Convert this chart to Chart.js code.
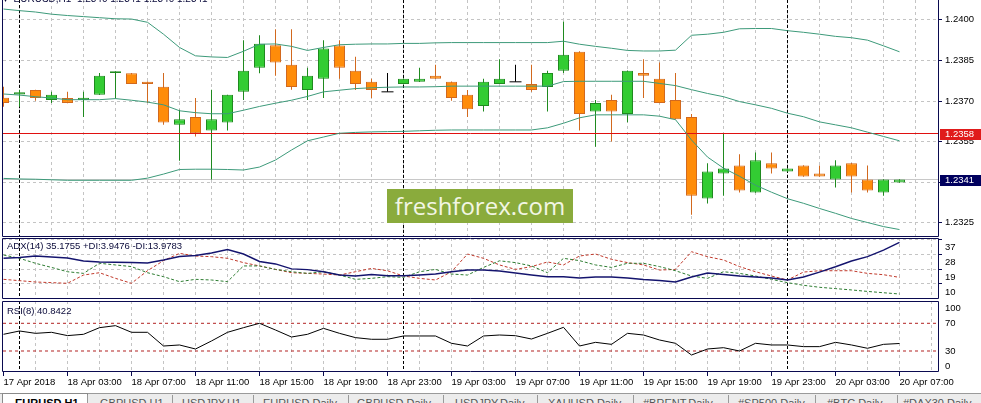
<!DOCTYPE html>
<html>
<head>
<meta charset="utf-8">
<script src="https://cdn.jsdelivr.net/npm/chart.js@4.4.1/dist/chart.umd.min.js"></script>
<style>
html,body{margin:0;padding:0;background:#fff;}
#wrap{position:relative;width:981px;height:403px;overflow:hidden;background:#fff;font-family:"Liberation Sans",Arial,sans-serif;}
#wrap canvas{position:absolute;left:0;}
.lbl{position:absolute;white-space:nowrap;font-size:9.5px;line-height:12px;color:#0a0a3a;}
#wm{position:absolute;left:387px;top:189px;width:186px;height:34px;background:#8aab3c;color:#f2f6e4;font-family:"Open Sans",sans-serif;font-size:24px;line-height:34px;text-align:center;}
#tabs{position:absolute;left:0;top:393px;width:981px;height:10px;background:#ececec;border-top:1px solid #9a9a9a;}
.tab{position:absolute;top:3px;font-size:11px;line-height:12px;color:#555;white-space:nowrap;}
.sep{position:absolute;top:1px;width:1px;height:10px;background:#9a9a9a;}
</style>
</head>
<body>
<div id="wrap">
  <canvas id="cMain" width="981" height="237" style="top:0"></canvas>
  <canvas id="cAdx" width="981" height="61" style="top:238px"></canvas>
  <canvas id="cRsi" width="981" height="87" style="top:301px"></canvas>
  <div class="lbl" style="left:3px;top:-7px;font-size:10px">&#9662;&nbsp;&nbsp;EURUSD,H1&nbsp; 1.2340 1.2341 1.2340 1.2341</div>
  <div class="lbl" style="left:7px;top:240px">ADX(14) 35.1755 +DI:3.9476 -DI:13.9783</div>
  <div class="lbl" style="left:7px;top:305px">RSI(8) 40.8422</div>
  <div id="wm">freshforex.com</div>
  <div id="tabs">
    <div style="position:absolute;left:2px;top:-1px;width:84px;height:12px;background:#fff;border:1px solid #8a8a8a;border-bottom:none"></div>
    <div class="tab" style="left:15px;font-weight:bold;color:#000">EURUSD,H1</div>
    <div class="sep" style="left:87px"></div>
    <div class="tab" style="left:100px">GBPUSD,H1</div>
    <div class="sep" style="left:172px"></div>
    <div class="tab" style="left:182px">USDJPY,H1</div>
    <div class="sep" style="left:253px"></div>
    <div class="tab" style="left:263px">EURUSD,Daily</div>
    <div class="sep" style="left:348px"></div>
    <div class="tab" style="left:357px">GBPUSD,Daily</div>
    <div class="sep" style="left:443px"></div>
    <div class="tab" style="left:455px">USDJPY,Daily</div>
    <div class="sep" style="left:537px"></div>
    <div class="tab" style="left:548px">XAUUSD,Daily</div>
    <div class="sep" style="left:633px"></div>
    <div class="tab" style="left:643px">#BRENT,Daily</div>
    <div class="sep" style="left:728px"></div>
    <div class="tab" style="left:738px">#SP500,Daily</div>
    <div class="sep" style="left:815px"></div>
    <div class="tab" style="left:827px">#BTC,Daily</div>
    <div class="sep" style="left:897px"></div>
    <div class="tab" style="left:903px">#DAX30,Daily</div>
  </div>
</div>
<script>
// ---------- DATA ----------
const CATEGORIES = ["17 Apr 23:00","18 Apr 00:00","18 Apr 01:00","18 Apr 02:00","18 Apr 03:00","18 Apr 04:00","18 Apr 05:00","18 Apr 06:00","18 Apr 07:00","18 Apr 08:00","18 Apr 09:00","18 Apr 10:00","18 Apr 11:00","18 Apr 12:00","18 Apr 13:00","18 Apr 14:00","18 Apr 15:00","18 Apr 16:00","18 Apr 17:00","18 Apr 18:00","18 Apr 19:00","18 Apr 20:00","18 Apr 21:00","18 Apr 22:00","18 Apr 23:00","19 Apr 00:00","19 Apr 01:00","19 Apr 02:00","19 Apr 03:00","19 Apr 04:00","19 Apr 05:00","19 Apr 06:00","19 Apr 07:00","19 Apr 08:00","19 Apr 09:00","19 Apr 10:00","19 Apr 11:00","19 Apr 12:00","19 Apr 13:00","19 Apr 14:00","19 Apr 15:00","19 Apr 16:00","19 Apr 17:00","19 Apr 18:00","19 Apr 19:00","19 Apr 20:00","19 Apr 21:00","19 Apr 22:00","19 Apr 23:00","20 Apr 00:00","20 Apr 01:00","20 Apr 02:00","20 Apr 03:00","20 Apr 04:00","20 Apr 05:00","20 Apr 06:00","20 Apr 07:00"];
const TIME_TICKS = ["17 Apr 2018","18 Apr 03:00","18 Apr 07:00","18 Apr 11:00","18 Apr 15:00","18 Apr 19:00","18 Apr 23:00","19 Apr 03:00","19 Apr 07:00","19 Apr 11:00","19 Apr 15:00","19 Apr 19:00","19 Apr 23:00","20 Apr 03:00","20 Apr 07:00"];

const OPEN  = [1.23712,1.23724,1.23741,1.23704,1.23711,1.23704,1.23723,1.23804,1.23803,1.23771,1.23753,1.23612,1.23641,1.23591,1.23621,1.23734,1.23823,1.23906,1.23834,1.23741,1.23782,1.23905,1.23812,1.23771,1.23734,1.23763,1.23771,1.23793,1.23771,1.23723,1.23682,1.23763,1.23771,1.23763,1.23752,1.23812,1.23882,1.23661,1.23704,1.23652,1.23804,1.23782,1.23704,1.23641,1.23340,1.23432,1.23462,1.23362,1.23470,1.23440,1.23462,1.23432,1.23410,1.23470,1.23410,1.23362,1.23399];
const HIGH  = [1.23753,1.23742,1.23742,1.23734,1.23734,1.23734,1.23804,1.23810,1.23804,1.23772,1.23804,1.23668,1.23711,1.23742,1.23723,1.23925,1.23943,1.23965,1.23965,1.23823,1.23925,1.23925,1.23864,1.23782,1.23804,1.23783,1.23823,1.23834,1.23772,1.23741,1.23782,1.23854,1.23834,1.23834,1.23812,1.23994,1.23884,1.23704,1.23723,1.23813,1.23854,1.23842,1.23804,1.23652,1.23470,1.23581,1.23503,1.23510,1.23510,1.23452,1.23463,1.23462,1.23481,1.23471,1.23462,1.23411,1.23411];
const LOW   = [1.23679,1.23679,1.23701,1.23693,1.23692,1.23641,1.23722,1.23709,1.23763,1.23693,1.23612,1.23479,1.23569,1.23410,1.23591,1.23704,1.23803,1.23793,1.23742,1.23704,1.23711,1.23782,1.23741,1.23711,1.23734,1.23761,1.23770,1.23781,1.23701,1.23641,1.23661,1.23763,1.23771,1.23734,1.23661,1.23804,1.23591,1.23531,1.23550,1.23622,1.23711,1.23692,1.23632,1.23280,1.23321,1.23350,1.23362,1.23361,1.23432,1.23439,1.23420,1.23420,1.23380,1.23362,1.23362,1.23350,1.23398];
const CLOSE = [1.23693,1.23732,1.23711,1.23723,1.23693,1.23712,1.23793,1.23810,1.23763,1.23763,1.23621,1.23633,1.23581,1.23633,1.23723,1.23812,1.23912,1.23842,1.23752,1.23793,1.23894,1.23823,1.23763,1.23741,1.23734,1.23782,1.23782,1.23782,1.23711,1.23670,1.23771,1.23782,1.23771,1.23741,1.23804,1.23871,1.23652,1.23693,1.23661,1.23812,1.23793,1.23693,1.23633,1.23350,1.23440,1.23451,1.23369,1.23481,1.23451,1.23451,1.23421,1.23421,1.23462,1.23421,1.23369,1.23410,1.23410];

const BB_UPPER  = [1.24040,1.24034,1.24029,1.24021,1.24016,1.24012,1.24008,1.24004,1.24003,1.23991,1.23947,1.23898,1.23867,1.23863,1.23861,1.23884,1.23910,1.23911,1.23902,1.23887,1.23898,1.23908,1.23910,1.23911,1.23911,1.23913,1.23913,1.23915,1.23916,1.23916,1.23916,1.23916,1.23916,1.23916,1.23916,1.23921,1.23910,1.23902,1.23895,1.23887,1.23885,1.23885,1.23888,1.23943,1.23947,1.23954,1.23967,1.23968,1.23968,1.23960,1.23954,1.23947,1.23939,1.23934,1.23925,1.23904,1.23882];
const BB_MIDDLE = [1.23726,1.23722,1.23716,1.23711,1.23705,1.23705,1.23705,1.23709,1.23703,1.23696,1.23686,1.23664,1.23657,1.23653,1.23653,1.23666,1.23680,1.23692,1.23703,1.23717,1.23734,1.23740,1.23746,1.23749,1.23751,1.23752,1.23752,1.23753,1.23755,1.23755,1.23755,1.23755,1.23755,1.23755,1.23755,1.23772,1.23773,1.23773,1.23773,1.23773,1.23773,1.23765,1.23757,1.23742,1.23728,1.23716,1.23698,1.23686,1.23673,1.23655,1.23642,1.23623,1.23612,1.23601,1.23585,1.23569,1.23553];
const BB_LOWER  = [1.23414,1.23412,1.23411,1.23409,1.23407,1.23407,1.23407,1.23407,1.23407,1.23415,1.23430,1.23447,1.23448,1.23448,1.23447,1.23445,1.23456,1.23482,1.23519,1.23553,1.23567,1.23581,1.23584,1.23586,1.23587,1.23588,1.23590,1.23592,1.23593,1.23593,1.23593,1.23593,1.23593,1.23593,1.23601,1.23618,1.23638,1.23649,1.23649,1.23649,1.23649,1.23644,1.23631,1.23556,1.23493,1.23452,1.23422,1.23389,1.23363,1.23339,1.23322,1.23303,1.23285,1.23266,1.23251,1.23236,1.23225];

const ADX      = [25.5,26.0,26.9,26.3,25.7,23.9,23.3,23.1,23.0,22.7,24.5,26.6,27.2,28.7,30.8,28.1,23.6,22.1,19.1,18.7,17.4,15.4,14.8,15.7,15.0,15.0,15.4,16.0,17.4,18.4,18.4,17.8,16.6,15.4,14.4,14.4,13.6,14.2,14.2,13.6,12.7,12.1,11.2,14.2,16.6,15.7,14.8,14.2,13.6,12.4,14.2,17.2,20.4,23.9,26.5,30.5,35.1755];
const PLUS_DI  = [27.5,25.5,22.5,20.0,17.4,16.4,22.5,21.5,20.5,16.8,14.4,11.4,12.8,12.4,11.4,20.9,20.9,18.8,17.4,16.4,17.4,15.4,12.8,13.4,14.4,14.0,17.4,18.8,16.0,15.4,20.0,24.0,22.9,20.9,16.8,25.5,24.1,21.5,20.0,22.5,22.5,20.5,18.0,14.8,13.4,17.4,16.4,14.8,12.8,10.8,9.2,8.0,7.2,6.4,5.5,4.7,3.9476];
const MINUS_DI = [12.8,12.0,11.2,10.8,10.4,15.4,16.8,13.4,10.4,18.0,24.1,28.5,26.9,26.5,25.5,22.9,20.9,18.8,16.8,16.4,16.0,15.4,17.4,19.4,18.0,14.8,13.4,12.4,17.4,28.1,25.5,21.5,18.8,20.5,23.3,21.5,26.9,28.1,24.9,22.9,21.5,18.4,18.8,29.5,26.5,24.5,20.5,17.4,14.8,12.4,17.2,18.0,18.0,18.0,16.4,15.6,13.9783];
const RSI      = [54.1,58.9,55.5,57.0,52.2,54.1,63.7,66.6,57.0,57.0,37.2,38.7,32.9,44.5,57.0,63.7,70.0,60.3,50.2,54.1,62.7,55.5,49.3,46.9,46.9,51.7,51.7,51.7,41.1,37.2,51.7,53.1,52.1,47.3,55.5,64.2,37.2,42.5,39.6,55.5,53.1,45.9,41.1,24.2,32.9,34.8,30.0,41.1,38.7,38.7,36.3,36.3,42.5,38.7,33.9,39.6,40.8422];

const PRICE_TICKS = [1.2325,1.2340,1.2355,1.2370,1.2385,1.2400];
const ADX_TICKS = [10,19,28,37];
const RSI_TICKS = [0,30,70,100];
const RSI_LEVELS = [70,30];
const LEVEL_PRICE = 1.2358;
const BID_PRICE = 1.2341;

// ---------- SCALE RANGES / STYLE ----------
const X_MIN = -0.03125, X_MAX = 58.40625;
const PRICE_MIN = 1.231975, PRICE_MAX = 1.2407338;
const ADX_MIN = 0.92, ADX_MAX = 37.78;
const RSI_MIN = -0.33, RSI_MAX = 102.2;

const FRAME = '#0a0a50';
const GRID = '#c4c4c4';
const BULL_FILL = '#33cc33', BULL_LINE = '#1f8a1f';
const BEAR_FILL = '#ff8c0a', BEAR_LINE = '#d2691e';
const DOJI = '#000000';
const BAND = '#3d9a7a';
const FONT = "'Liberation Sans', Arial, sans-serif";

Chart.defaults.font.family = FONT;
Chart.defaults.font.size = 9.5;
Chart.defaults.color = '#000';

const idx = CATEGORIES.map((_, i) => i);
const isBull = idx.map(i => CLOSE[i] > OPEN[i]);
const isDoji = idx.map(i => CLOSE[i] === OPEN[i]);
const DAY_STARTS = idx.filter(i => CATEGORIES[i].endsWith('00:00'));
const GRID_X = [];
for (let v = 0; v <= Math.floor(X_MAX); v += 2) GRID_X.push(v);

// ---------- PLUGINS ----------
const framePlugin = {
  id: 'frame',
  afterDraw(chart, args, opts) {
    const { ctx, chartArea: a } = chart;
    ctx.save();
    ctx.strokeStyle = FRAME; ctx.lineWidth = 1; ctx.setLineDash([]);
    ctx.beginPath();
    const L = a.left - 0.5, R = a.right + 0.5, T = a.top + 0.5, B = a.bottom - 0.5;
    ctx.moveTo(L, opts.top ? T : a.top - 2); ctx.lineTo(L, B); ctx.lineTo(R, B); ctx.lineTo(R, opts.top ? T : a.top - 2);
    if (opts.top) { ctx.moveTo(L, T); ctx.lineTo(R, T); }
    ctx.stroke();
    ctx.restore();
  }
};
const daySepPlugin = {
  id: 'daySep',
  beforeDatasetsDraw(chart) {
    const { ctx, chartArea: a } = chart; const xs = chart.scales.x;
    ctx.save();
    ctx.strokeStyle = '#000'; ctx.lineWidth = 1; ctx.setLineDash([3, 2]);
    DAY_STARTS.forEach(i => {
      const x = Math.round(xs.getPixelForValue(i) - 0.5) + 0.5;
      ctx.beginPath(); ctx.moveTo(x, a.top); ctx.lineTo(x, a.bottom); ctx.stroke();
    });
    ctx.restore();
  }
};
const priceBoxPlugin = {
  id: 'priceBoxes',
  afterDraw(chart) {
    const { ctx } = chart; const ys = chart.scales.y; const a = chart.chartArea;
    ctx.save();
    ctx.font = "9.5px " + FONT; ctx.textBaseline = 'middle';
    [[LEVEL_PRICE, '#e01b1b'], [BID_PRICE, '#00005e']].forEach(([p, col]) => {
      const y = Math.round(ys.getPixelForValue(p));
      ctx.fillStyle = col;
      ctx.fillRect(a.right + 2, y - 5, 981 - a.right - 2, 11);
      ctx.fillStyle = '#fff';
      ctx.fillText(p.toFixed(4), a.right + 7, y + 0.5);
    });
    ctx.restore();
  }
};

function xScale(showLabels) {
  return {
    type: 'linear', min: X_MIN, max: X_MAX, offset: false,
    afterBuildTicks: s => { s.ticks = GRID_X.map(v => ({ value: v })); },
    ticks: {
      display: showLabels, autoSkip: false, maxRotation: 0, minRotation: 0, align: 'start', padding: 1,
      color: '#000', font: { size: 9.5 },
      callback: v => (v % 4 === 0 && TIME_TICKS[v / 4]) || ''
    },
    grid: {
      color: c => (c.tick && c.tick.value === 0) ? 'rgba(0,0,0,0)' : GRID,
      lineWidth: 1, drawTicks: showLabels, tickLength: 4,
      tickColor: c => (c.tick && c.tick.value % 4 === 0) ? FRAME : 'rgba(0,0,0,0)'
    },
    border: { display: false, dash: [3, 3] },
    afterFit: s => { s.height = showLabels ? 16 : 0; s.paddingLeft = 0; s.paddingRight = 0; }
  };
}
function yScale(min, max, tickVals, labelFn, extra) {
  return Object.assign({
    position: 'right', min, max,
    afterBuildTicks: s => { s.ticks = tickVals.map(v => ({ value: v })); },
    ticks: { color: '#000', font: { size: 9.5 }, padding: 3, callback: labelFn },
    grid: { color: GRID, lineWidth: 1, tickLength: 4, tickColor: FRAME },
    border: { display: false, dash: [3, 3] },
    afterFit: s => { s.width = 43; s.paddingTop = 0; s.paddingBottom = 0; }
  }, extra || {});
}
const baseOpts = {
  responsive: false, animation: false, events: [],
  layout: { padding: { left: 3, right: 0, top: 0, bottom: 0 }, autoPadding: false },
  plugins: { legend: { display: false }, tooltip: { enabled: false } }
};
function lineDS(values, color, width, dash, order) {
  return {
    type: 'line', data: idx.map(i => ({ x: i, y: values[i] })),
    borderColor: color, borderWidth: width, borderDash: dash || [],
    pointRadius: 0, fill: false, tension: 0, clip: 0, order: order
  };
}
function hLine(value, color, dash, order) {
  return {
    type: 'line', data: [{ x: X_MIN, y: value }, { x: X_MAX, y: value }],
    borderColor: color, borderWidth: 1, borderDash: dash || [],
    pointRadius: 0, fill: false, clip: 0, order: order
  };
}

// ---------- MAIN PRICE CHART ----------
new Chart(document.getElementById('cMain'), {
  type: 'bar',
  data: {
    datasets: [
      lineDS(BB_UPPER, BAND, 1, [], 0),
      lineDS(BB_MIDDLE, BAND, 1, [], 0),
      lineDS(BB_LOWER, BAND, 1, [], 0),
      hLine(LEVEL_PRICE, '#e01010', [], 0),
      {
        type: 'line', showLine: false, order: 1, clip: 0,
        data: idx.filter(i => isDoji[i]).map(i => ({ x: i, y: OPEN[i] })),
        pointStyle: 'line', pointRadius: 6, pointBorderColor: DOJI, pointBorderWidth: 1, pointBackgroundColor: DOJI
      },
      {
        type: 'bar', order: 2, grouped: false, clip: 0,
        data: idx.filter(i => !isDoji[i]).map(i => ({ x: i, y: [Math.min(OPEN[i], CLOSE[i]), Math.max(OPEN[i], CLOSE[i])] })),
        barThickness: 11, borderWidth: 1, borderSkipped: false, inflateAmount: 0,
        backgroundColor: c => (c.raw && isBull[c.raw.x]) ? BULL_FILL : BEAR_FILL,
        borderColor: c => (c.raw && isBull[c.raw.x]) ? BULL_LINE : BEAR_LINE
      },
      {
        type: 'bar', order: 3, grouped: false, clip: 0,
        data: idx.map(i => ({ x: i, y: [LOW[i], HIGH[i]] })),
        barThickness: 1, borderWidth: 0, inflateAmount: 0,
        backgroundColor: c => c.raw ? (isDoji[c.raw.x] ? DOJI : (isBull[c.raw.x] ? BULL_LINE : BEAR_LINE)) : BEAR_LINE
      },
      hLine(BID_PRICE, '#c8c8c8', [], 10)
    ]
  },
  options: Object.assign({}, baseOpts, {
    plugins: Object.assign({}, baseOpts.plugins, { frame: { top: false } }),
    scales: {
      x: xScale(false),
      y: yScale(PRICE_MIN, PRICE_MAX, PRICE_TICKS, v => v.toFixed(4))
    }
  }),
  plugins: [daySepPlugin, framePlugin, priceBoxPlugin]
});

// ---------- ADX PANEL ----------
new Chart(document.getElementById('cAdx'), {
  type: 'line',
  data: {
    datasets: [
      lineDS(ADX, '#14146e', 1.4, [], 0),
      lineDS(PLUS_DI, '#2e7d32', 1, [3, 2], 1),
      lineDS(MINUS_DI, '#c0392b', 1, [3, 2], 2)
    ]
  },
  options: Object.assign({}, baseOpts, {
    plugins: Object.assign({}, baseOpts.plugins, { frame: { top: true } }),
    scales: {
      x: xScale(false),
      y: yScale(ADX_MIN, ADX_MAX, ADX_TICKS, v => String(v), {
        ticks: { color: '#000', font: { size: 9.5 }, padding: 3, labelOffset: 8, callback: v => String(v) }
      })
    }
  }),
  plugins: [daySepPlugin, framePlugin]
});

// ---------- RSI PANEL ----------
const RSI_EDGE = 8.3; // labels at the extremes are kept inside the panel
new Chart(document.getElementById('cRsi'), {
  type: 'line',
  data: {
    datasets: [
      lineDS(RSI, '#000000', 1, [], 0),
      hLine(RSI_LEVELS[0], '#b22222', [3, 3], 1),
      hLine(RSI_LEVELS[1], '#b22222', [3, 3], 1)
    ]
  },
  options: Object.assign({}, baseOpts, {
    plugins: Object.assign({}, baseOpts.plugins, { frame: { top: true } }),
    scales: {
      x: xScale(true),
      y: Object.assign(yScale(RSI_MIN, RSI_MAX, RSI_TICKS, null), {
        afterBuildTicks: s => { s.ticks = RSI_TICKS.map(v => ({ value: Math.min(Math.max(v, RSI_EDGE), 100 - RSI_EDGE) })); },
        ticks: { color: '#000', font: { size: 9.5 }, padding: 3, callback: (v, i) => String(RSI_TICKS[i]) },
        grid: { display: true, drawOnChartArea: false, tickLength: 4, tickColor: 'rgba(0,0,0,0)' }
      })
    }
  }),
  plugins: [daySepPlugin, framePlugin]
});
</script>
</body>
</html>
